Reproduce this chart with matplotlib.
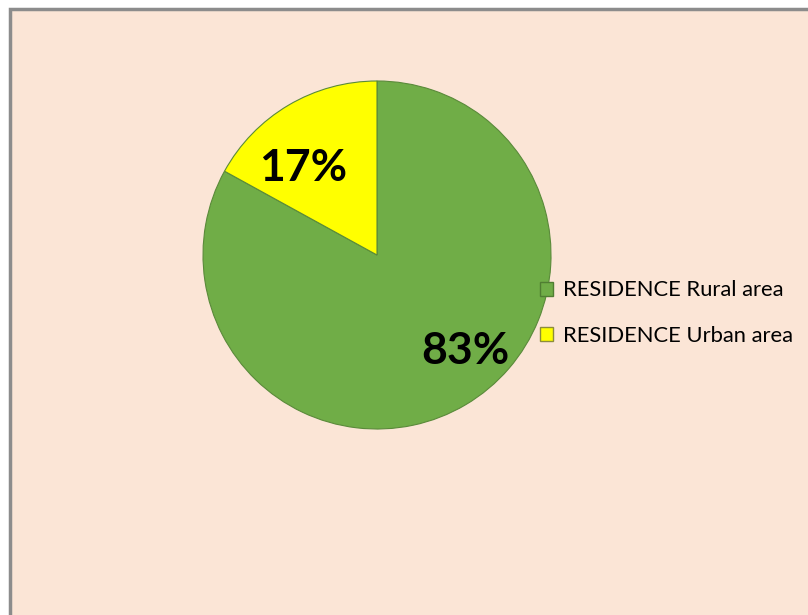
import matplotlib
matplotlib.use('Agg')
import matplotlib.pyplot as plt
import matplotlib.patches as patches

# data
categories = ['RESIDENCE Rural area', 'RESIDENCE Urban area']
shares = [83, 17]
colors = ['#70AD47', '#FFFF00']
edge_colors = ['#507E32', '#8C8C3C']

bg = '#FBE5D6'
W, H = 808, 615
font = ['Lato', 'DejaVu Sans']

fig = plt.figure(figsize=(W / 100, H / 100), dpi=100)
fig.patch.set_facecolor('white')

# chart area with grey frame (right/bottom edges run off the image)
frame = patches.Rectangle((10 / W, -0.1), 1.2, (H - 9) / H + 0.1, transform=fig.transFigure,
                          facecolor=bg, edgecolor='#8C8C8C', linewidth=2.5, zorder=-1)
fig.patches.append(frame)

# pie axes: centre (377, 255), radius 174 px
ax = fig.add_axes([203 / W, (H - 429) / H, 348 / W, 348 / H])
ax.set_facecolor('none')
wedges, texts, autotexts = ax.pie(shares, colors=colors, startangle=90, counterclock=False,
                                  radius=1, autopct='%d%%',
                                  wedgeprops=dict(edgecolor='#5A8A3A', linewidth=0.8),
                                  textprops=dict(fontsize=32, fontweight='bold', family=font))
ax.set_xlim(-1, 1)
ax.set_ylim(-1, 1)
ax.set_aspect('equal')
ax.axis('off')

# place the percentage labels where the original has them
autotexts[0].set_position((0.506, -0.55))
autotexts[1].set_position((-0.425, 0.5))
for t in autotexts:
    t.set_color('black')

handles = [patches.Patch(facecolor=c, edgecolor=e, linewidth=1) for c, e in zip(colors, edge_colors)]
leg = fig.legend(handles, categories, loc='center left', bbox_to_anchor=(540 / W, 1 - 313 / H),
                 frameon=False, handlelength=0.6, handleheight=0.6, handletextpad=0.45,
                 labelspacing=1.15, borderaxespad=0, borderpad=0,
                 prop=dict(family=font, size=15.8))

fig.savefig('out.png', dpi=100, facecolor='white')
